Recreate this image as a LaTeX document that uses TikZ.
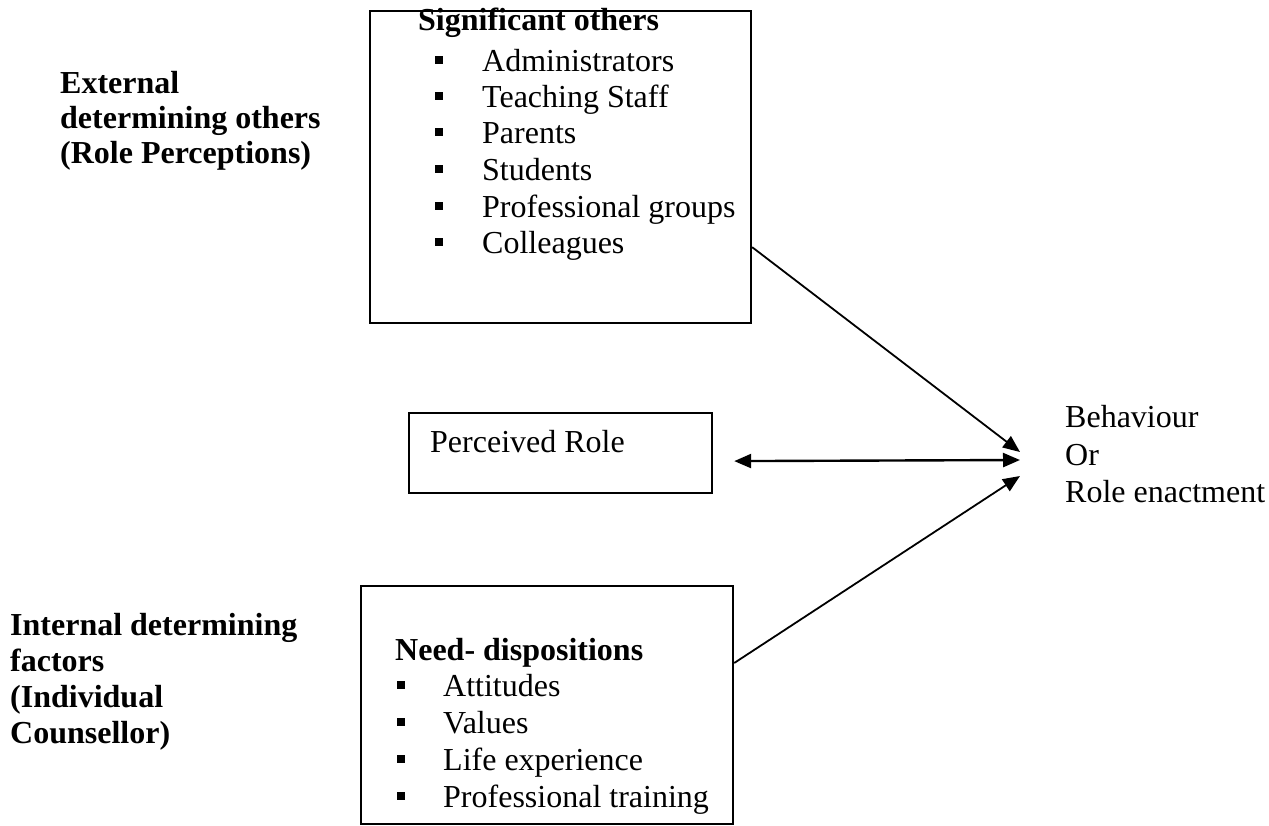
\documentclass[tikz,border=0pt]{standalone}
\usepackage{fontspec}
\setmainfont{Liberation Serif}
\usetikzlibrary{arrows.meta}

\begin{document}
\begin{tikzpicture}[x=1pt, y=-1pt, >={Triangle[length=17pt,width=14pt]},
  font=\fontsize{32}{37}\selectfont,
  box/.style={draw, line width=2.2pt, inner sep=0pt},
  txt/.style={anchor=base west, inner sep=0pt},
  head/.style={txt, font=\fontsize{32}{37}\selectfont\bfseries},
  sq/.style={fill, inner sep=0pt, minimum size=8pt},
  link/.style={line width=1.8pt}]
  \useasboundingbox (0,0) rectangle (1269,825);

  % Boxes
  \node[box, anchor=north west, minimum width=381pt, minimum height=312pt] (others) at (369,10) {};
  \node[box, anchor=north west, minimum width=303pt, minimum height=80pt] (perceived) at (408,412) {};
  \node[box, anchor=north west, minimum width=372pt, minimum height=238pt] (needs) at (360,585) {};

  % Significant others list
  \node[head] (sig) at (418,30) {Significant others};
  \foreach \y/\t [count=\i] in {71/Administrators, 107/Teaching Staff, 143/Parents,
                                180/Students, 217/Professional groups, 253/Colleagues} {
    \node[sq] (sqa\i) at (439,\y-11) {};
    \node[txt] (sig\i) at (482,\y) {\t};
  }

  % Perceived role
  \node[txt] (role) at (430,452) {Perceived Role};

  % Need-dispositions list
  \node[head] (need) at (395,660) {Need- dispositions};
  \foreach \y/\t [count=\i] in {696/Attitudes, 733/Values, 770/Life experience,
                                807/Professional training} {
    \node[sq] (sqb\i) at (401,\y-11) {};
    \node[txt] (need\i) at (443,\y) {\t};
  }

  % Left labels
  \foreach \y/\t [count=\i] in {93/External, 128/determining others, 163/{(Role Perceptions)}}
    \node[head] (ext\i) at (60,\y) {\t};
  \foreach \y/\t [count=\i] in {635/Internal determining, 671/factors, 707/{(Individual},
                                743/{Counsellor)}}
    \node[head] (int\i) at (10,\y) {\t};

  % Outcome
  \foreach \y/\t [count=\i] in {427/Behaviour, 465/Or, 502/Role enactment}
    \node[txt] (beh\i) at (1065,\y) {\t};

  % Arrows into the outcome
  \coordinate (inA) at (1020,452);
  \coordinate (inB) at (1020,460);
  \coordinate (inC) at (1020,476);
  \draw[->, link] ([yshift=77pt]others.south east) -- (inA);
  \draw[<->, link, line width=2.4pt] ([xshift=21pt,yshift=-8pt]perceived.east) -- (inB);
  \draw[->, link] ([yshift=-78pt]needs.north east) -- (inC);
\end{tikzpicture}
\end{document}
